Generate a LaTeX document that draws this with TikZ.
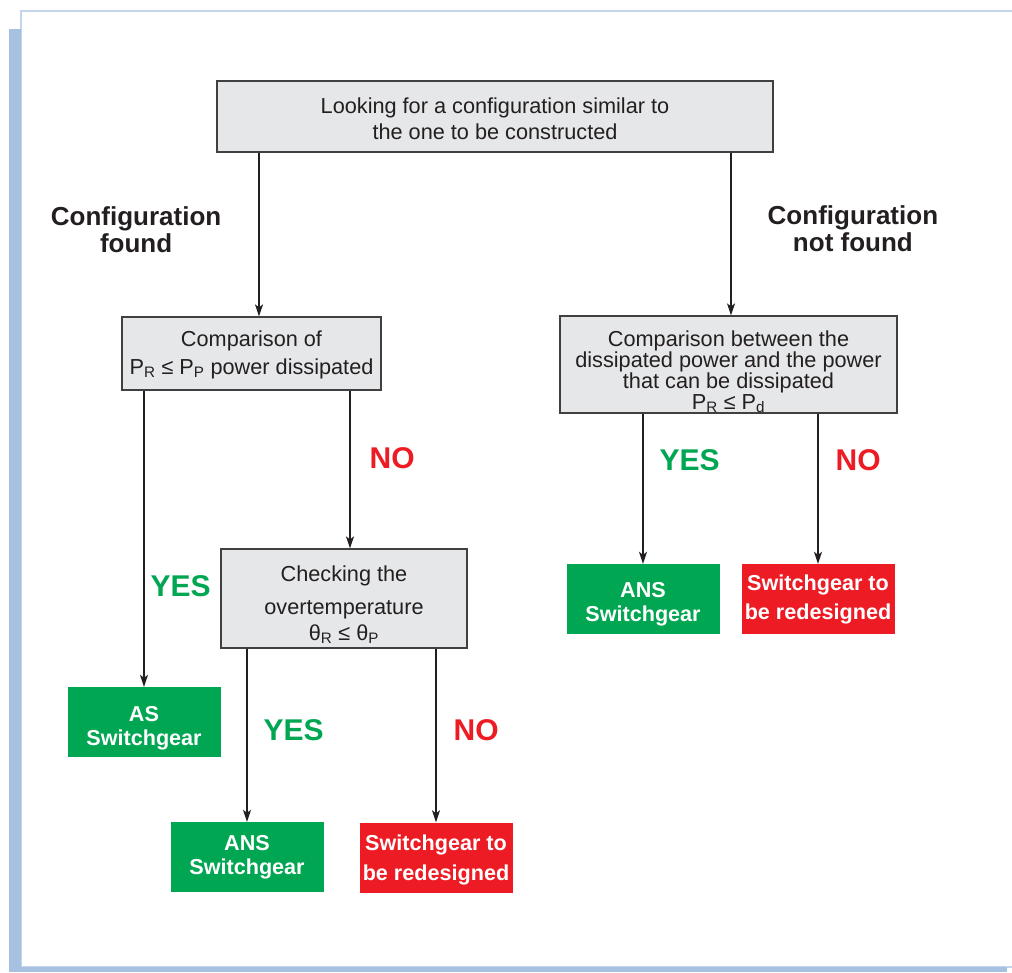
\documentclass[tikz,border=0pt]{standalone}
\usepackage{fontspec}
\setmainfont{Liberation Sans}
\usetikzlibrary{arrows.meta,shadows}
\definecolor{ink}{HTML}{231F20}
\definecolor{boxgray}{HTML}{E6E7E8}
\definecolor{okgreen}{HTML}{00A651}
\definecolor{nored}{HTML}{ED1C24}
\definecolor{frameblue}{HTML}{A7C1E0}
\definecolor{framelight}{HTML}{C3D5EC}
\newcommand{\lift}[1]{\rule{0pt}{#1}}
\begin{document}
\begin{tikzpicture}[x=1pt,y=-1pt,
	graybox/.style={draw=black!75,line width=1.2pt,fill=boxgray,text=ink,align=center,inner sep=0pt,
		drop shadow={shadow xshift=1pt,shadow yshift=-1pt,fill=black!65,opacity=1},font=\fontsize{21.7}{26}\selectfont},
	goodbox/.style={fill=okgreen,text=white,align=center,inner sep=0pt,minimum width=153pt,minimum height=70pt,font=\bfseries\fontsize{21.6}{24}\selectfont},
	badbox/.style={goodbox,fill=nored,font=\bfseries\fontsize{21.6}{29}\selectfont},
	yes/.style={text=okgreen,inner sep=0pt,font=\bfseries\fontsize{30}{30}\selectfont},
	no/.style={yes,text=nored},
	found/.style={text=ink,align=center,inner sep=0pt,yshift=5pt,font=\bfseries\fontsize{26}{27}\selectfont},
	arr/.style={-{Stealth[length=12pt,width=8pt,inset=3pt]},line width=1.4pt,color=ink}]
		\useasboundingbox (0,0) rectangle (1012,972);
		\draw[framelight,line width=1.5pt] (1012,11) -- (21,11) -- (21,967) -- (1012,967);
		\fill[frameblue] (9,29) rectangle (21,972);
		\fill[frameblue] (9,967) rectangle (1007,972);
		
		\node[graybox,minimum width=556pt,minimum height=71pt](top) at (495,116.5){\lift{20pt}Looking for a configuration similar to\\the one to be constructed};
		\node[graybox,minimum width=259pt,minimum height=73pt,font=\fontsize{21.7}{28}\selectfont](lcmp) at (251.5,353.5){\lift{18pt}Comparison of\\P\textsubscript{R} ≤ P\textsubscript{P} power dissipated};
		\node[graybox,minimum width=337pt,minimum height=95pt,font=\fontsize{21.7}{21}\selectfont](rcmp) at (728.5,364.5){\lift{30pt}Comparison between the\\dissipated power and the power\\that can be dissipated\\P\textsubscript{R} ≤ P\textsubscript{d}};
		\node[graybox,minimum width=246pt,minimum height=99pt](check) at (344,598.5){\lift{28pt}Checking the\\[7pt]overtemperature\\θ\textsubscript{R} ≤ θ\textsubscript{P}};
		\node[goodbox](asg) at (144,722){\lift{28pt}AS\\Switchgear};
		\node[goodbox](ansl) at (247,857){ANS\\Switchgear};
		\node[badbox,font=\bfseries\fontsize{21.6}{30}\selectfont](redl) at (436,857.5){\lift{20pt}Switchgear to\\be redesigned};
		\node[goodbox](ansr) at (643,599){\lift{25pt}ANS\\Switchgear};
		\node[badbox](redr) at (818,599){Switchgear to\\be redesigned};
		\path[arr]
		([xshift=7.5pt]lcmp.north |- top.south) edge node[found,left=37pt] {Configuration\\found} ([xshift=7.5pt]lcmp.north)
		([xshift=2.5pt]rcmp.north |- top.south) edge node[found,right=36pt] {Configuration\\not found} ([xshift=2.5pt]rcmp.north)
		(lcmp.south -| asg.north) edge node[yes,right=6pt,pos=0.66] {YES} (asg.north)
		([xshift=6pt]check.north |- lcmp.south) edge node[no,right=19pt,pos=0.43] {NO} ([xshift=6pt]check.north)
		(check.south -| ansl.north) edge node[yes,right=16pt,pos=0.47] {YES} (ansl.north)
		(check.south -| redl.north) edge node[no,right=17pt,pos=0.47] {NO} (redl.north)
		(rcmp.south -| ansr.north) edge node[yes,right=16pt,pos=0.31] {YES} (ansr.north)
		(rcmp.south -| redr.north) edge node[no,right=17pt,pos=0.31] {NO} (redr.north);
		
\end{tikzpicture}
\end{document}
